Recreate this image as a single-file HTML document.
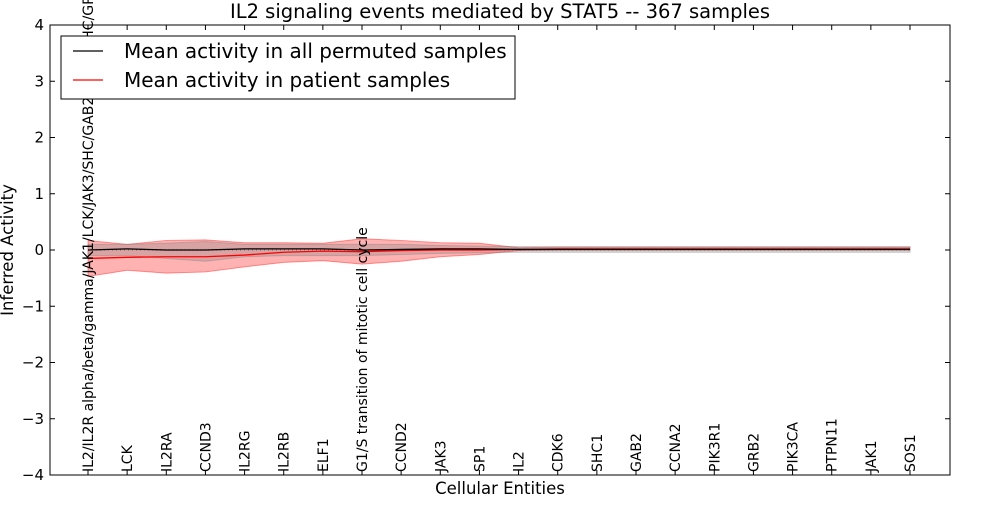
<!DOCTYPE html>
<html><head><meta charset="utf-8"><style>
body{margin:0;background:#fff;font-family:"Liberation Sans","DejaVu Sans",sans-serif}
svg text{font-family:"DejaVu Sans","Liberation Sans",sans-serif}
</style></head><body>
<svg id="c" width="1000" height="500" xmlns="http://www.w3.org/2000/svg"></svg>
<script>
const categories=["IL2/IL2R alpha/beta/gamma/JAK1/LCK/JAK3/SHC/GAB2/SOS1/SHC/GRB2","LCK","IL2RA","CCND3","IL2RG","IL2RB","ELF1","G1/S transition of mitotic cell cycle","CCND2","JAK3","SP1","IL2","CDK6","SHC1","GAB2","CCNA2","PIK3R1","GRB2","PIK3CA","PTPN11","JAK1","SOS1"];
const patientMean=[-0.15,-0.13,-0.12,-0.12,-0.09,-0.04,-0.02,-0.03,-0.01,0,0,0.01,0.02,0.02,0.02,0.02,0.02,0.02,0.02,0.02,0.02,0.02];
const patientUpper=[0.17,0.1,0.17,0.18,0.13,0.13,0.12,0.2,0.17,0.13,0.12,0.04,0.05,0.05,0.05,0.05,0.05,0.05,0.05,0.05,0.05,0.05];
const patientLower=[-0.47,-0.36,-0.41,-0.39,-0.3,-0.22,-0.19,-0.25,-0.2,-0.12,-0.08,-0.01,0,0,0,0,0,0,0,0,0,0];
const permMean=[0,0.02,0,0,0.02,0.02,0.02,0,0.01,0.02,0.02,0.01,0.01,0.01,0.01,0.01,0.01,0.01,0.01,0.01,0.01,0.01];
const permUpper=[0.1,0.1,0.12,0.15,0.1,0.1,0.1,0.1,0.1,0.08,0.07,0.06,0.06,0.06,0.06,0.06,0.06,0.06,0.06,0.06,0.06,0.06];
const permLower=[-0.1,-0.1,-0.15,-0.2,-0.12,-0.1,-0.1,-0.1,-0.08,-0.06,-0.05,-0.04,-0.04,-0.04,-0.04,-0.04,-0.04,-0.04,-0.04,-0.04,-0.04,-0.04];
const yTicks=[-4,-3,-2,-1,0,1,2,3,4];
const L=50,R=950,T=25,B=475;
const x=i=>88+i*(910-88)/(categories.length-1);
const y=v=>250-v*(B-T)/8;
const svg=document.getElementById('c');const NS="http://www.w3.org/2000/svg";
function mk(t,a,p){const e=document.createElementNS(NS,t);for(const k in a)e.setAttribute(k,a[k]);(p||svg).appendChild(e);return e;}
function band(u,l,fill,op,name){let d="M"+u.map((v,i)=>x(i)+","+y(v)).join("L");for(let i=l.length-1;i>=0;i--)d+="L"+x(i)+","+y(l[i]);d+="Z";const e=mk('path',{d:d,fill:fill,'fill-opacity':op,stroke:fill,'stroke-opacity':0.4});

}
function line(v,col,name,dash){const e=mk('polyline',{points:v.map((a,i)=>x(i)+","+y(a)).join(" "),fill:'none',stroke:col,'stroke-width':1.3});if(dash)e.setAttribute('stroke-dasharray',dash);

}
band(patientUpper,patientLower,'#ff0000',0.3,'patient-band');
band(permUpper,permLower,'#808080',0.3,'permuted-band');
line(permMean.map(()=>0),'#777','zero-line','1,3');
line(patientMean,'#ff0000','patient-mean-line');
line(permMean,'#000','permuted-mean-line');
mk('rect',{x:L,y:T,width:R-L,height:B-T,fill:'none',stroke:'#000','stroke-width':1});
yTicks.forEach(v=>{mk('line',{x1:L,x2:L+5,y1:y(v),y2:y(v),stroke:'#000'});mk('line',{x1:R,x2:R-5,y1:y(v),y2:y(v),stroke:'#000'});
const t=mk('text',{x:L-6,y:y(v)+5,'text-anchor':'end','font-size':15});t.textContent=(v<0?'\u2212'+(-v):v);

});
categories.forEach((c,i)=>{mk('line',{x1:x(i),x2:x(i),y1:B,y2:B-5,stroke:'#000'});mk('line',{x1:x(i),x2:x(i),y1:T,y2:T+5,stroke:'#000'});
const t=mk('text',{x:0,y:0,'font-size':14,transform:`translate(${x(i)+5},472) rotate(-90)`});t.textContent=c;

});
let t=mk('text',{x:500,y:18,'text-anchor':'middle','font-size':19.5});t.textContent="IL2 signaling events mediated by STAT5 -- 367 samples";

t=mk('text',{x:500,y:494,'text-anchor':'middle','font-size':16.5});t.textContent="Cellular Entities";

t=mk('text',{x:0,y:0,'text-anchor':'middle','font-size':16.5,transform:'translate(13,250) rotate(-90)'});t.textContent="Inferred Activity";

const g=mk('g',{});


mk('rect',{x:61,y:36,width:454,height:63,fill:'#fff',stroke:'#000'},g);
mk('line',{x1:73,x2:103,y1:51,y2:51,stroke:'#000','stroke-width':1.3},g);
mk('line',{x1:73,x2:103,y1:80,y2:80,stroke:'#f00','stroke-width':1.3},g);
t=mk('text',{x:124,y:58,'font-size':20},g);t.textContent="Mean activity in all permuted samples";

t=mk('text',{x:124,y:87,'font-size':20},g);t.textContent="Mean activity in patient samples";

</script>
</body></html>
